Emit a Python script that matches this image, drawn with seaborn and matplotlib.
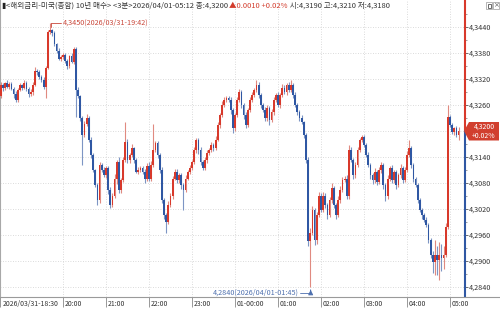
import matplotlib
matplotlib.use("Agg")
import numpy as np
import pandas as pd
import matplotlib.pyplot as plt
import matplotlib.transforms as mtransforms
import seaborn as sns
from matplotlib.patches import Polygon, Rectangle
from matplotlib.lines import Line2D

# ---------------- data (3-minute bars, 2026/03/31 18:30 -> 2026/04/01 05:12) ----------------
first_open = 4.3230
close_1830 = [4.3280, 4.3305, 4.3300, 4.3310, 4.3302, 4.3308, 4.3298, 4.3285, 4.3272, 4.3295,
              4.3305, 4.3300, 4.3310, 4.3298, 4.3285, 4.3290, 4.3306, 4.3338, 4.3335, 4.3325,
              4.3318, 4.3302, 4.3345, 4.3428, 4.3432, 4.3425, 4.3400, 4.3385, 4.3367, 4.3370]
close_2000 = [4.3375, 4.3362, 4.3350, 4.3372, 4.3360, 4.3389, 4.3295, 4.3280, 4.3230, 4.3190,
              4.3215, 4.3230, 4.3180, 4.3145, 4.3110, 4.3075, 4.3040, 4.3121, 4.3110, 4.3098]
close_2100 = [4.3115, 4.3064, 4.3030, 4.3050, 4.3090, 4.3128, 4.3064, 4.3087, 4.3133, 4.3175,
              4.3133, 4.3145, 4.3160, 4.3133, 4.3106, 4.3110, 4.3115, 4.3106, 4.3090, 4.3120]
close_2200 = [4.3090, 4.3121, 4.3156, 4.3172, 4.3145, 4.3110, 4.3040, 4.3006, 4.2990, 4.3030,
              4.3050, 4.3090, 4.3106, 4.3087, 4.3098, 4.3075, 4.3064, 4.3090, 4.3106, 4.3115]
close_2300 = [4.3128, 4.3156, 4.3180, 4.3156, 4.3128, 4.3115, 4.3133, 4.3150, 4.3156, 4.3168,
              4.3160, 4.3180, 4.3214, 4.3237, 4.3260, 4.3272, 4.3276, 4.3272, 4.3248, 4.3206]
close_0000 = [4.3237, 4.3272, 4.3290, 4.3260, 4.3237, 4.3214, 4.3248, 4.3272, 4.3283, 4.3295,
              4.3306, 4.3283, 4.3260, 4.3248, 4.3230, 4.3253, 4.3225, 4.3244, 4.3272, 4.3283]
close_0100 = [4.3260, 4.3283, 4.3300, 4.3290, 4.3306, 4.3295, 4.3306, 4.3283, 4.3260, 4.3244,
              4.3230, 4.3220, 4.3190, 4.3133, 4.2945, 4.2965, 4.3018, 4.2948, 4.3006, 4.3050]
close_0200 = [4.3018, 4.3050, 4.3030, 4.3006, 4.3040, 4.3068, 4.3030, 4.3006, 4.3040, 4.3064,
              4.3087, 4.3090, 4.3050, 4.3156, 4.3133, 4.3098, 4.3121, 4.3156, 4.3180, 4.3186]
close_0300 = [4.3168, 4.3145, 4.3121, 4.3098, 4.3087, 4.3106, 4.3083, 4.3110, 4.3121, 4.3075,
              4.3050, 4.3090, 4.3115, 4.3087, 4.3106, 4.3075, 4.3098, 4.3115, 4.3087, 4.3110]
close_0400 = [4.3145, 4.3160, 4.3121, 4.3090, 4.3075, 4.3041, 4.3018, 4.3006, 4.2995, 4.2983,
              4.2948, 4.2914, 4.2898, 4.2914, 4.2902, 4.2914, 4.2907, 4.2914, 4.2978, 4.3232]
close_0500 = [4.3214, 4.3198, 4.3206, 4.3190, 4.3200]

# wick lengths beyond the body, in units of 0.0001
wick_up = [5, 8, 6, 4, 7, 5, 6, 3, 8, 5, 6, 4, 7, 5, 3, 6, 8, 10, 5, 6, 4, 7, 6, 4, 18, 3, 5, 4, 6, 5,
           6, 4, 5, 3, 7, 4, 5, 6, 4, 5, 8, 10, 4, 6, 5, 3, 4, 8, 5, 6,
           5, 4, 6, 8, 10, 6, 12, 5, 8, 46, 6, 5, 9, 4, 5, 6, 4, 5, 7, 6,
           8, 10, 60, 6, 5, 4, 6, 5, 4, 8, 6, 5, 7, 6, 5, 4, 6, 8, 5, 6,
           6, 8, 5, 4, 6, 5, 7, 5, 4, 6, 5, 8, 6, 5, 10, 6, 5, 4, 6, 5,
           5, 6, 8, 5, 4, 6, 5, 6, 8, 5, 12, 6, 5, 4, 8, 6, 5, 7, 6, 5,
           6, 5, 8, 6, 5, 7, 12, 5, 6, 4, 5, 6, 4, 5, 6, 10, 8, 5, 6, 10,
           8, 10, 6, 5, 8, 12, 6, 5, 10, 8, 6, 5, 8, 12, 6, 5, 8, 6, 5, 5,
           4, 5, 6, 5, 4, 8, 5, 6, 8, 5, 6, 8, 5, 6, 4, 5, 6, 8, 5, 8,
           8, 20, 6, 5, 4, 6, 5, 4, 5, 6, 4, 5, 8, 35, 20, 30, 25, 20, 10, 28,
           6, 5, 4, 5, 10]
wick_dn = [6, 4, 7, 5, 3, 6, 4, 8, 5, 4, 3, 6, 4, 5, 7, 4, 6, 3, 5, 4, 6, 5, 26, 3, 4, 5, 3, 6, 4, 5,
           4, 5, 6, 4, 3, 5, 63, 5, 6, 69, 5, 4, 6, 8, 5, 4, 11, 6, 5, 4,
           6, 10, 8, 5, 4, 12, 6, 8, 5, 4, 6, 7, 5, 8, 4, 6, 5, 6, 10, 5,
           6, 5, 4, 5, 7, 8, 6, 10, 25, 4, 5, 6, 4, 8, 6, 10, 46, 5, 4, 6,
           5, 4, 6, 8, 7, 5, 4, 6, 5, 4, 6, 5, 4, 6, 5, 4, 6, 5, 8, 10,
           6, 4, 5, 8, 10, 6, 5, 4, 6, 5, 4, 6, 8, 5, 7, 6, 10, 5, 6, 4,
           5, 6, 4, 5, 6, 4, 5, 6, 5, 8, 6, 5, 6, 8, 10, 105, 6, 12, 8, 5,
           6, 5, 8, 10, 5, 6, 8, 10, 5, 6, 4, 5, 8, 6, 5, 8, 6, 5, 4, 6,
           5, 6, 5, 8, 10, 6, 8, 5, 6, 8, 12, 6, 5, 8, 6, 10, 5, 6, 8, 5,
           4, 5, 6, 8, 5, 6, 5, 8, 6, 5, 6, 8, 25, 30, 35, 45, 30, 25, 5, 4,
           5, 6, 8, 5, 10]

hour_labels = ["2026/03/31-18:30", "20:00", "21:00", "22:00", "23:00", "01-00:00",
               "01:00", "02:00", "03:00", "04:00", "05:00"]
hour_bar_index = [30, 50, 70, 90, 110, 130, 150, 170, 190, 210]
y_ticks = [4.2840, 4.2900, 4.2960, 4.3020, 4.3080, 4.3140, 4.3200, 4.3260, 4.3320, 4.3380, 4.3440]
last_price = 4.3200
high_text = "4,3450(2026/03/31-19:42)"
low_text = "4,2840(2026/04/01-01:45)"
title_parts = [("▮", "#222222"),
               ("<해외금리-미국(종합) 10년 매수> <3분>2026/04/01-05:12 종:4,3200 ", "#333333"),
               ("▲0.0010 +0.02%", "#d23c2c"),
               (" 시:4,3190 고:4,3210 저:4,3180", "#333333")]

# ---------------- build OHLC table ----------------
closes = (close_1830 + close_2000 + close_2100 + close_2200 + close_2300 + close_0000 +
          close_0100 + close_0200 + close_0300 + close_0400 + close_0500)
n = len(closes)
assert len(wick_up) == n and len(wick_dn) == n, (n, len(wick_up), len(wick_dn))
opens = [first_open] + closes[:-1]
df = pd.DataFrame({"bar": np.arange(n), "open": opens, "close": closes})
df["high"] = df[["open", "close"]].max(axis=1) + np.array(wick_up) * 1e-4
df["low"] = df[["open", "close"]].min(axis=1) - np.array(wick_dn) * 1e-4
df["up"] = df["close"] >= df["open"]

RED = "#d8392b"
BLUE = "#2f57a3"
WICK_RED = "#e08a80"
WICK_BLUE = "#7d95c4"
GRID = "#cfcfcf"

# ---------------- figure ----------------
sns.set_theme(style="white")
plt.rcParams['font.family'] = ['Liberation Sans Narrow', 'Noto Sans CJK KR', 'DejaVu Sans']
W, H = 500, 314
fig = plt.figure(figsize=(W / 100, H / 100), dpi=100)
fig.patch.set_facecolor("white")
ax_left, ax_right, ax_top, ax_bot = 0, 465, 0, 297
ax = fig.add_axes([ax_left / W, 1 - ax_bot / H, (ax_right - ax_left) / W, (ax_bot - ax_top) / H])
ax.set_facecolor("white")

px_per_bar = 2.15
x0 = 0.7
ax.set_xlim(x0, x0 + (ax_right - ax_left) / px_per_bar)
vpp = 0.006 / 26.0
ax.set_ylim(4.3440 - (ax_bot - 27) * vpp, 4.3440 + (27 - ax_top) * vpp)

# grid
for yv in y_ticks:
    ax.axhline(yv, color=GRID, lw=0.6, ls=(0, (1, 2)), zorder=0)
for xv in hour_bar_index:
    ax.axvline(xv, color=GRID, lw=0.6, ls=(0, (1, 2)), zorder=0)

# candles
colors = np.where(df["up"], RED, BLUE)
wcolors = np.where(df["up"], WICK_RED, WICK_BLUE)
ax.vlines(df["bar"], df["low"], df["high"], colors=wcolors, lw=0.8, zorder=2)
body_h = (df["close"] - df["open"]).abs().clip(lower=0.00012)
body_b = df[["open", "close"]].min(axis=1)
ax.bar(df["bar"], body_h, bottom=body_b, width=0.8, color=colors, edgecolor="none",
       linewidth=0, zorder=3)

# spines
for s in ["top", "right", "bottom"]:
    ax.spines[s].set_visible(False)
ax.spines["left"].set_color("#a8a8a8")
ax.spines["left"].set_linewidth(0.8)

# right axis: ticks & labels (the 4,3200 label sits under the price box)
ax.yaxis.tick_right()
ax.set_yticks(y_ticks)
ax.set_yticklabels(["" if abs(v - last_price) < 1e-9 else f"{v:.4f}".replace(".", ",")
                    for v in y_ticks])
ax.set_yticks([v + 0.003 for v in y_ticks], minor=True)
ax.tick_params(axis="y", which="major", direction="out", length=2.5, width=0.6, color="#555555",
               pad=0.5, labelsize=5.2, labelcolor="#333333")
ax.tick_params(axis="y", which="minor", direction="out", length=1.5, width=0.5, color="#777777")
trans = ax.get_yaxis_transform()
ylo, yhi = ax.get_ylim()
ax.add_line(Line2D([1, 1], [last_price, yhi], transform=trans, color=RED, lw=1.5,
                   clip_on=False, zorder=5))
ax.add_line(Line2D([1, 1], [ylo, last_price], transform=trans, color=BLUE, lw=1.5,
                   clip_on=False, zorder=5))

# bottom axis
xt = [x0 + 0.2] + hour_bar_index
ax.set_xticks(xt)
ax.set_xticklabels(hour_labels)
ax.tick_params(axis="x", direction="out", length=7, width=0.6, color="#888888", pad=-7,
               labelsize=5.0, labelcolor="#333333", bottom=True)
offset = mtransforms.ScaledTranslation(2.0 / 100, -3.0 / 100, fig.dpi_scale_trans)
for lab in ax.get_xticklabels():
    lab.set_horizontalalignment("left")
    lab.set_verticalalignment("top")
    lab.set_transform(lab.get_transform() + offset)
fig.add_artist(Line2D([0, 1], [1 - ax_bot / H, 1 - ax_bot / H], transform=fig.transFigure,
                      color="#9a9a9a", lw=0.8))

# high / low annotations
hi_i = int(df["high"].idxmax())
lo_i = int(df["low"].idxmin())
hi_v = df["high"].max()
lo_v = df["low"].min()
bar_to_x = lambda px: x0 + px / px_per_bar
ax.plot([hi_i + 0.3, bar_to_x(61)], [hi_v, hi_v], color="#c9473a", lw=0.6, zorder=6, clip_on=False)
ax.plot([hi_i + 0.3, hi_i + 0.3], [hi_v, hi_v - 4 * vpp], color="#c9473a", lw=0.6, zorder=6)
ax.text(bar_to_x(62.5), hi_v, high_text, color="#c9473a", fontsize=5.2, va="center", ha="left",
        zorder=6)
ly = 4.3440 - (293 - 27) * vpp
ax.plot([bar_to_x(299.5), lo_i + 0.2], [ly, ly], color="#4d6fae", lw=0.6, zorder=6)
ax.annotate("", xy=(lo_i + 0.2, lo_v), xytext=(lo_i + 0.2, ly),
            arrowprops=dict(arrowstyle="-|>,head_length=0.25,head_width=0.12", color="#4d6fae",
                            lw=0.6), zorder=6)
ax.text(bar_to_x(298.5), ly, low_text, color="#4d6fae", fontsize=5.2, va="center", ha="right",
        zorder=6)

# current price box
def fy(py):
    return 1 - py / H
def fx(px):
    return px / W
box = Polygon([(fx(464), fy(131)), (fx(469), fy(122)), (fx(499), fy(122)),
               (fx(499), fy(140.5)), (fx(469), fy(140.5))], closed=True,
              transform=fig.transFigure, facecolor="#d13f2e", edgecolor="none", zorder=10)
fig.add_artist(box)
fig.text(fx(484), fy(126.8), f"{last_price:.4f}".replace(".", ","), color="white", fontsize=5.0,
         ha="center", va="center", zorder=11)
fig.text(fx(484), fy(135.6), "+0.02%", color="white", fontsize=5.0, ha="center", va="center",
         zorder=11)

# window icons top-right
for x_ in [486, 493]:
    fig.add_artist(Rectangle((fx(x_), fy(9)), 6 / W, 7 / H, transform=fig.transFigure,
                             facecolor="white", edgecolor="#9a9a9a", lw=0.5, zorder=10))
fig.add_artist(Rectangle((fx(487.5), fy(7.5)), 3 / W, 3.5 / H, transform=fig.transFigure,
                         facecolor="none", edgecolor="#555555", lw=0.6, zorder=11))
fig.text(fx(496), fy(5.6), "×", fontsize=5, color="#666666", ha="center", va="center",
         family="DejaVu Sans", zorder=11)

# title line built from coloured parts
fig.canvas.draw()
renderer = fig.canvas.get_renderer()
cur_x = fx(1.5)
for txt, col in title_parts:
    t = fig.text(cur_x, fy(6), txt, color=col, fontsize=5.45, ha="left", va="center", zorder=12)
    bb = t.get_window_extent(renderer=renderer)
    cur_x += bb.width / W

fig.savefig("out.png", dpi=100, facecolor="white")
